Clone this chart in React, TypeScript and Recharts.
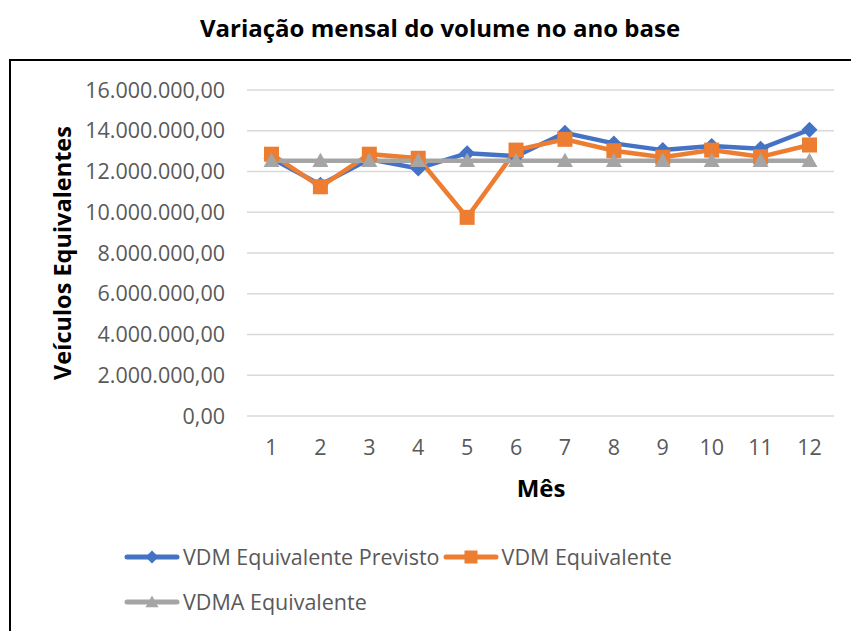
import { LineChart, Line, XAxis, YAxis, CartesianGrid } from "recharts";

const MESES = [1, 2, 3, 4, 5, 6, 7, 8, 9, 10, 11, 12];
const VDM_PREVISTO = [
  12650000, 11350000, 12600000, 12150000, 12900000, 12750000,
  13900000, 13380000, 13050000, 13250000, 13120000, 14050000,
];
const VDM_EQUIVALENTE = [
  12850000, 11250000, 12850000, 12650000, 9750000, 13050000,
  13580000, 13020000, 12700000, 13050000, 12720000, 13300000,
];
const VDMA_EQUIVALENTE = [
  12530000, 12530000, 12530000, 12530000, 12530000, 12530000,
  12530000, 12530000, 12530000, 12530000, 12530000, 12530000,
];
const Y_TICKS = [0, 2000000, 4000000, 6000000, 8000000, 10000000, 12000000, 14000000, 16000000];

const FONT = "'Open Sans', sans-serif";
const AZUL = "#4472C4";
const LARANJA = "#ED7D31";
const CINZA = "#A5A5A5";

const data = MESES.map((m, i) => ({
  mes: m,
  previsto: VDM_PREVISTO[i],
  equivalente: VDM_EQUIVALENTE[i],
  vdma: VDMA_EQUIVALENTE[i],
}));

// 16000000 -> "16.000.000,00"
function formatBR(v: number) {
  const int = Math.round(v).toString().replace(/\B(?=(\d{3})+(?!\d))/g, ".");
  return `${int},00`;
}

function Diamond({ cx, cy, fill, r = 8 }: any) {
  if (cx == null || cy == null) return null;
  return <path d={`M${cx},${cy - r} L${cx + r},${cy} L${cx},${cy + r} L${cx - r},${cy} Z`} fill={fill} />;
}

function Square({ cx, cy, fill, r = 7.5 }: any) {
  if (cx == null || cy == null) return null;
  return <rect x={cx - r} y={cy - r} width={r * 2} height={r * 2} fill={fill} />;
}

function Triangle({ cx, cy, fill, r = 8 }: any) {
  if (cx == null || cy == null) return null;
  return <path d={`M${cx},${cy - r} L${cx + r},${cy + r * 0.8} L${cx - r},${cy + r * 0.8} Z`} fill={fill} />;
}

const SERIES = [
  { key: "previsto", name: "VDM Equivalente Previsto", color: AZUL, Marker: Diamond },
  { key: "equivalente", name: "VDM Equivalente", color: LARANJA, Marker: Square },
  { key: "vdma", name: "VDMA Equivalente", color: CINZA, Marker: Triangle },
];

function LegendIcon({ color, Marker }: any) {
  return (
    <svg width={56} height={18} style={{ display: "block" }}>
      <line x1={3} y1={9} x2={53} y2={9} stroke={color} strokeWidth={5} strokeLinecap="round" />
      <Marker cx={28} cy={9} fill={color} r={6.5} />
    </svg>
  );
}

export default function App() {
  return (
    <div
      style={{
        position: "absolute",
        left: 0,
        top: 0,
        width: 851,
        height: 631,
        background: "#fff",
        overflow: "hidden",
        fontFamily: FONT,
      }}
    >
      <div
        style={{
          position: "absolute",
          left: 9,
          top: 59,
          width: 900,
          height: 700,
          borderLeft: "2px solid #000",
          borderTop: "2px solid #000",
        }}
      />
      <div
        style={{
          position: "absolute",
          left: 0,
          top: 11,
          width: 880,
          textAlign: "center",
          fontSize: 24,
          fontWeight: 700,
          color: "#000",
        }}
      >
        Variação mensal do volume no ano base
      </div>

      <div style={{ position: "absolute", left: 0, top: 0 }}>
        <LineChart
          width={851}
          height={631}
          data={data}
          margin={{ top: 90, right: 17, bottom: 0, left: 0 }}
        >
          <CartesianGrid vertical={false} stroke="#D9D9D9" strokeWidth={1.5} />
          <XAxis
            dataKey="mes"
            height={215}
            axisLine={false}
            tickLine={false}
            tickMargin={18}
            padding={{ left: 24.5, right: 24.5 }}
            tick={{ fontSize: 21.5, fill: "#595959", fontFamily: FONT }}
            interval={0}
          />
          <YAxis
            width={247}
            domain={[0, 16000000]}
            ticks={Y_TICKS}
            axisLine={false}
            tickLine={false}
            tickMargin={16}
            tickFormatter={formatBR}
            tick={{ fontSize: 21.5, fill: "#595959", fontFamily: FONT }}
          />
          {SERIES.map((s) => (
            <Line
              key={s.key}
              dataKey={s.key}
              name={s.name}
              stroke={s.color}
              strokeWidth={4.5}
              isAnimationActive={false}
              dot={(p: any) => <s.Marker key={`${s.key}-${p.index}`} cx={p.cx} cy={p.cy} fill={s.color} />}
              activeDot={false}
            />
          ))}
        </LineChart>
      </div>

      <div
        style={{
          position: "absolute",
          left: 62,
          top: 253,
          transform: "translate(-50%, -50%) rotate(-90deg)",
          whiteSpace: "nowrap",
          fontSize: 23.5,
          fontWeight: 700,
          color: "#000",
        }}
      >
        Veículos Equivalentes
      </div>
      <div
        style={{
          position: "absolute",
          left: 541,
          top: 487,
          transform: "translate(-50%, -50%)",
          fontSize: 24,
          fontWeight: 700,
          color: "#000",
        }}
      >
        Mês
      </div>

      <div
        style={{
          position: "absolute",
          left: 124,
          top: 543,
          width: 620,
          display: "flex",
          flexWrap: "wrap",
          rowGap: 18,
          columnGap: 3,
        }}
      >
        {SERIES.map((s) => (
          <div key={s.key} style={{ display: "flex", alignItems: "center", height: 27 }}>
            <LegendIcon color={s.color} Marker={s.Marker} />
            <span style={{ fontSize: 21.5, color: "#595959", marginLeft: 3 }}>{s.name}</span>
          </div>
        ))}
      </div>
    </div>
  );
}
